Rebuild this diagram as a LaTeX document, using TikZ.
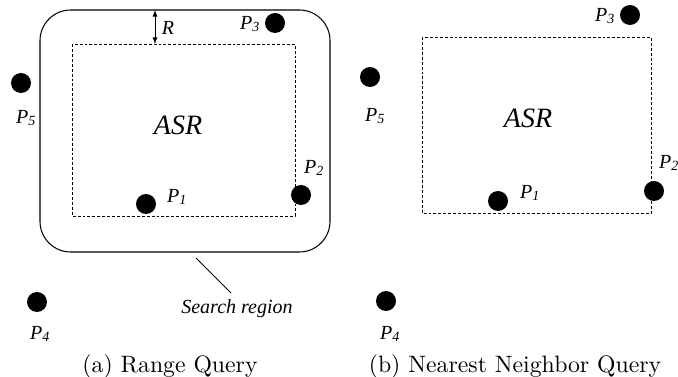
\documentclass[tikz,border=0pt]{standalone}
\usepackage{fontspec}
\usepackage{tikz}
\newfontfamily\timesfnt{Liberation Serif}
\newcommand{\ptlbl}[1]{P\textsubscript{#1}}
\tikzset{
  dot/.style={circle,fill=black,inner sep=0pt,minimum size=15pt},
  lbl/.style={font=\timesfnt\itshape\fontsize{15}{15}\selectfont,inner sep=0pt},
  big/.style={font=\timesfnt\itshape\fontsize{21}{21}\selectfont,inner sep=0pt},
  capt/.style={font=\fontsize{10}{12}\selectfont,inner sep=0pt},
  asr/.style={dashed,dash pattern=on 2.2pt off 1.5pt,line width=0.5pt},
}

\begin{document}
\begin{tikzpicture}[x=0.75pt,y=0.75pt,yscale=-1,xscale=1]
\useasboundingbox (0,0) rectangle (678,377);

%(a) range query
%Search region
\draw [line width=0.8pt, rounded corners=23pt] (40,10) rectangle (330,252) ;
%ASR
\draw [asr] (72,44) rectangle (295,216) ;
\node [big] (asrA) at (178,125) {ASR};
%R
\coordinate (rtop) at (155,10);
\coordinate (rbot) at (155,44);
\draw [<->, >=latex, line width=0.7pt] (rtop) -- (rbot) ;
\node [lbl] (rA) at (168,28) {R};
%points
\node [dot] (p1A) at (146,204) {};
\node [lbl] (p1Albl) at (177,197) {\ptlbl{1}};
\node [dot] (p2A) at (301,195) {};
\node [lbl] (p2Albl) at (314,168) {\ptlbl{2}};
\node [dot] (p3A) at (275,23) {};
\node [lbl] (p3Albl) at (250,24) {\ptlbl{3}};
\node [dot] (p4A) at (37,302) {};
\node [lbl] (p4Albl) at (40,334) {\ptlbl{4}};
\node [dot] (p5A) at (21,83) {};
\node [lbl] (p5Albl) at (26,118) {\ptlbl{5}};
%label of search region
\node [lbl] (srlbl) at (237,309) {Search region};
\coordinate (srpt) at (196,258);
\coordinate (srend) at (231,293);
\draw [line width=0.6pt] (srpt) -- (srend) ;
\node [capt] (captA) at (170,367) {\scalebox{1.78}{(a) Range Query}};

%(b) nearest neighbor query
\draw [asr] (422,37) rectangle (651,213) ;
\node [big] (asrB) at (528,118) {ASR};
\node [dot] (p1B) at (498,201) {};
\node [lbl] (p1Blbl) at (530,193) {\ptlbl{1}};
\node [dot] (p2B) at (654,191) {};
\node [lbl] (p2Blbl) at (669,163) {\ptlbl{2}};
\node [dot] (p3B) at (630,15) {};
\node [lbl] (p3Blbl) at (605,16) {\ptlbl{3}};
\node [dot] (p4B) at (386,301) {};
\node [lbl] (p4Blbl) at (390,334) {\ptlbl{4}};
\node [dot] (p5B) at (370,77) {};
\node [lbl] (p5Blbl) at (375,116) {\ptlbl{5}};
\node [capt] (captB) at (515,367) {\scalebox{1.78}{(b) Nearest Neighbor Query}};

\end{tikzpicture}
\end{document}
